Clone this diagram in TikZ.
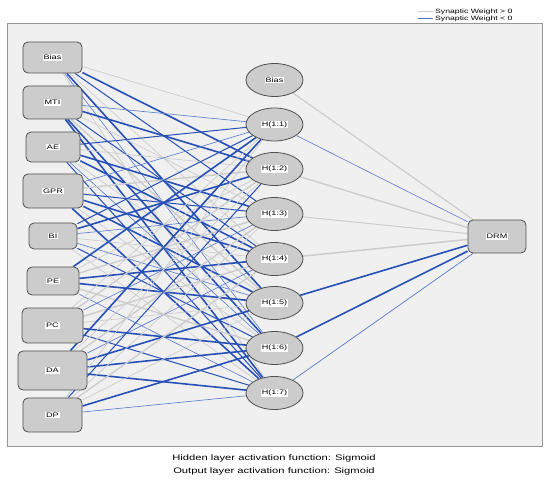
\documentclass[tikz,border=0pt]{standalone}
\usepackage{fontspec}
\setmainfont{Liberation Sans}
\usetikzlibrary{shapes.geometric}
\definecolor{pos}{RGB}{205,205,205}
\definecolor{neg}{RGB}{38,80,182}
\definecolor{negl}{RGB}{85,120,205}
\definecolor{panel}{RGB}{240,240,240}
\definecolor{nodefill}{RGB}{204,204,204}
\definecolor{nodeline}{RGB}{80,80,80}
\definecolor{frameline}{RGB}{150,150,150}
\newcommand{\hs}[1]{\scalebox{1.4}[1]{#1}}
\newcommand{\lbl}[1]{{\setlength{\fboxsep}{0.8pt}\colorbox{white}{\hs{#1}}}}
\pgfdeclarelayer{bg}
\pgfsetlayers{bg,main}
\begin{document}
\begin{tikzpicture}[x=1pt,y=-1pt,
  inbox/.style={draw=nodeline, fill=nodefill, rounded corners=5pt, line width=0.8pt, inner sep=0pt, font=\fontsize{6.5}{7}\selectfont},
  hid/.style={ellipse, draw=nodeline, fill=nodefill, line width=0.8pt, minimum width=57pt, minimum height=33pt, inner sep=0pt, font=\fontsize{6.5}{7}\selectfont},
  legtext/.style={anchor=west, inner sep=0pt, font=\fontsize{6.2}{7}\selectfont},
  captext/.style={inner sep=0pt, font=\fontsize{8}{9}\selectfont}]
\useasboundingbox (0,0) rectangle (550,484);

% input layer
\node[inbox, minimum width=59pt, minimum height=31pt] (i1) at (52.5,57.5) {\lbl{Bias}};
\node[inbox, minimum width=59pt, minimum height=33pt] (i2) at (52.5,102.5) {\lbl{MTI}};
\node[inbox, minimum width=54pt, minimum height=30pt] (i3) at (53,147) {\lbl{AE}};
\node[inbox, minimum width=60pt, minimum height=34pt] (i4) at (53,191) {\lbl{GPR}};
\node[inbox, minimum width=48pt, minimum height=26pt] (i5) at (53,236) {\lbl{BI}};
\node[inbox, minimum width=52pt, minimum height=28pt] (i6) at (53,281) {\lbl{PE}};
\node[inbox, minimum width=61pt, minimum height=35pt] (i7) at (52.5,325.5) {\lbl{PC}};
\node[inbox, minimum width=69pt, minimum height=39pt] (i8) at (52.5,370.5) {\lbl{DA}};
\node[inbox, minimum width=59pt, minimum height=34pt] (i9) at (52.5,415) {\lbl{DP}};

% hidden layer
\node[hid] (hb) at (274.5,80) {\lbl{Bias}};
\node[hid] (h1) at (274.5,124.5) {\lbl{H(1:1)}};
\node[hid] (h2) at (274.5,169) {\lbl{H(1:2)}};
\node[hid] (h3) at (274.5,214) {\lbl{H(1:3)}};
\node[hid] (h4) at (274.5,259) {\lbl{H(1:4)}};
\node[hid] (h5) at (274.5,303) {\lbl{H(1:5)}};
\node[hid] (h6) at (274.5,348) {\lbl{H(1:6)}};
\node[hid] (h7) at (274.5,393) {\lbl{H(1:7)}};

% output
\node[inbox, minimum width=58pt, minimum height=33pt] (out) at (497,236.5) {\lbl{DRM}};

\begin{pgfonlayer}{bg}
\fill[white] (0,0) rectangle (550,484);
\draw[fill=panel, draw=frameline, line width=1pt] (7,24) rectangle (542,447);
\foreach \i/\row in {
 1/{pos/0.7,neg/1.6,neg/1.0,pos/0.7,neg/1.6,negl/0.6,pos/0.7},
 2/{negl/0.6,neg/1.6,pos/0.7,neg/1.0,pos/1.4,neg/1.6,neg/1.6},
 3/{neg/1.0,pos/0.7,neg/1.6,neg/1.6,pos/0.7,negl/0.6,neg/1.0},
 4/{negl/0.6,pos/1.4,neg/1.0,neg/1.6,neg/1.6,pos/0.7,neg/1.6},
 5/{neg/1.0,neg/1.6,negl/0.6,pos/0.7,negl/0.6,neg/1.0,pos/0.7},
 6/{neg/1.6,pos/0.7,pos/1.4,neg/1.6,neg/1.6,pos/1.4,negl/0.6},
 7/{pos/0.7,pos/1.4,negl/0.6,pos/1.4,pos/0.7,neg/1.6,neg/1.0},
 8/{neg/1.6,pos/0.7,pos/1.4,negl/0.6,neg/1.6,neg/1.6,neg/1.6},
 9/{pos/0.7,neg/1.0,pos/0.7,pos/1.4,pos/0.7,neg/1.6,negl/0.6}}{
  \foreach \c/\w [count=\j] in \row {
    \draw[draw=\c, line width=\w pt] (i\i) -- (h\j);
  }
}
\draw[draw=pos, line width=1.2pt] (hb) -- (out);
\draw[draw=negl, line width=0.6pt] (h1) -- (out);
\draw[draw=pos, line width=1.4pt] (h2) -- (out);
\draw[draw=pos, line width=1.0pt] (h3) -- (out);
\draw[draw=pos, line width=1.5pt] (h4) -- (out);
\draw[draw=neg, line width=1.6pt] (h5) -- (out);
\draw[draw=neg, line width=1.6pt] (h6) -- (out);
\draw[draw=negl, line width=0.7pt] (h7) -- (out);
\end{pgfonlayer}

% legend
\coordinate (lg1a) at (418,12);
\coordinate (lg1b) at (433,12);
\coordinate (lg2a) at (418,19);
\coordinate (lg2b) at (433,19);
\draw[draw=pos, line width=1pt] (lg1a) -- (lg1b);
\draw[draw=negl, line width=1pt] (lg2a) -- (lg2b);
\node[legtext] (leg1) at (435,12) {\hs{Synaptic Weight > 0}};
\node[legtext] (leg2) at (435,19) {\hs{Synaptic Weight < 0}};

% captions
\node[captext] (cap1) at (274,458) {\hs{Hidden layer activation function: Sigmoid}};
\node[captext] (cap2) at (274,471) {\hs{Output layer activation function: Sigmoid}};
\end{tikzpicture}
\end{document}
